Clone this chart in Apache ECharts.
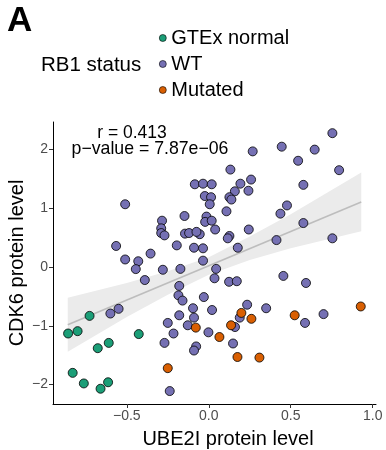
<!DOCTYPE html>
<html>
<head>
<meta charset="utf-8">
<script src="https://cdn.jsdelivr.net/npm/echarts@6/dist/echarts.min.js"></script>
<style>
   html, body { margin: 0; padding: 0; background: #fff; }
   #chart { width: 386px; height: 450px; }
</style>
</head>
<body>
<div id="chart"></div>
<script>
   // points: [UBE2I, CDK6]
   var gtexPoints = [
      [-0.727, -0.83], [-0.858, -1.13], [-0.80, -1.09], [-0.427, -1.14], [-0.61, -1.29],
      [-0.677, -1.38], [-0.83, -1.80], [-0.762, -1.98], [-0.614, -1.96], [-0.66, -2.07]
   ];
   var wtPoints = [
      [-0.51, 1.07], [-0.085, 1.41], [-0.035, 1.42], [0.018, 1.41], [-0.024, 1.21],
      [0.014, 1.19], [0.006, 1.07], [-0.285, 0.79], [-0.148, 0.87], [-0.014, 0.86],
      [-0.022, 0.77], [0.018, 0.79], [0.039, 0.64], [-0.29, 0.66], [-0.29, 0.58],
      [-0.27, 0.54], [-0.145, 0.57], [-0.12, 0.58], [-0.055, 0.56], [-0.075, 0.60],
      [-0.565, 0.36], [-0.355, 0.23], [-0.195, 0.37], [-0.09, 0.33], [-0.035, 0.32],
      [-0.51, 0.13], [-0.43, 0.10], [-0.035, 0.11],
      [0.754, 2.28], [0.445, 2.05], [0.646, 2.00], [0.268, 1.97], [0.545, 1.81],
      [0.795, 1.65], [0.132, 1.66], [0.258, 1.49], [0.193, 1.42], [0.577, 1.40],
      [0.242, 1.30], [0.159, 1.29], [0.126, 1.19], [0.138, 1.15], [0.108, 0.95],
      [0.477, 1.05], [0.437, 0.91], [0.244, 0.64], [0.126, 0.53], [0.116, 0.49],
      [0.577, 0.75], [0.413, 0.46], [0.754, 0.49], [0.177, 0.33],
      [-0.445, -0.034], [-0.28, -0.045], [-0.173, -0.03], [0.045, -0.03], [-0.39, -0.22],
      [0.035, -0.19], [-0.18, -0.32], [-0.185, -0.48], [-0.16, -0.57], [-0.03, -0.51],
      [-0.55, -0.71], [-0.60, -0.79], [-0.096, -0.70], [0.02, -0.73], [-0.18, -0.82],
      [-0.09, -0.86], [-0.25, -0.95], [-0.128, -0.99], [-0.002, -1.11], [-0.215, -1.13],
      [-0.27, -1.29], [-0.077, -1.35], [-0.09, -1.42], [-0.238, -2.11],
      [0.124, -0.25], [0.171, -0.24], [0.455, -0.15], [0.593, -0.27], [0.234, -0.64],
      [0.35, -0.70], [0.189, -0.86], [0.70, -0.80], [0.587, -0.95], [0.16, -1.02],
      [0.148, -1.30]
   ];
   var mutPoints = [
      [-0.079, -1.03], [0.065, -1.19], [-0.25, -1.72], [0.199, -0.78], [0.26, -0.88],
      [0.524, -0.82], [0.927, -0.67], [0.136, -0.99], [0.175, -1.53], [0.309, -1.54]
   ];

   // fit line and confidence band
   var fitX = [-0.86, 0.93];
   var fitY = [-0.98, 1.11];
   var bandX = [-0.86, -0.5, -0.25, 0, 0.25, 0.5, 0.93];
   var bandUpper = [-0.52, -0.27, -0.07, 0.17, 0.52, 0.90, 1.61];
   var bandLower = [-1.44, -0.85, -0.47, -0.13, 0.12, 0.32, 0.61];

   var xTicks = [-0.5, 0, 0.5, 1];
   var yTicks = [-2, -1, 0, 1, 2];
   var groupNames = ['GTEx normal', 'WT', 'Mutated'];
   var groupColors = ['#1b9e77', '#7570b3', '#d95f02'];

   var FONT = 'Liberation Sans, Arial, Helvetica, sans-serif';

   function minusSign(s){
      return String(s).replace('-', '\u2212');
   }

   var myChart = echarts.init(document.getElementById('chart'));

   var fitData = fitX.map(function(x, i){ return [x, fitY[i]]; });

   function pointSeries(name, data, color){
      return {
         name: name,
         type: 'scatter',
         data: data,
         symbolSize: 9,
         z: 5,
         itemStyle: { color: color, borderColor: '#000', borderWidth: 0.8, opacity: 1 }
      };
   }

   var option = {
      animation: false,
      backgroundColor: '#fff',
      textStyle: { fontFamily: FONT },
      grid: { left: 53, right: 10, top: 122, bottom: 46, containLabel: false, outerBoundsMode: 'none' },
      legend: {
         data: groupNames,
         orient: 'vertical',
         left: 159,
         top: 28,
         padding: 0,
         itemWidth: 7,
         itemHeight: 7,
         itemGap: 6,
         icon: 'circle',
         itemStyle: { borderWidth: 0.6 },
         textStyle: { fontSize: 20, color: '#000', fontFamily: FONT }
      },
      graphic: [
         { type: 'text', left: 7, top: 4, style: { text: 'A', font: 'bold 35px ' + FONT, fill: '#000' } },
         { type: 'text', left: 41, top: 55, style: { text: 'RB1 status', font: '20.5px ' + FONT, fill: '#000' } },
         { type: 'text', x: 132, y: 133, style: { text: 'r = 0.413', font: '17.5px ' + FONT, fill: '#000', align: 'center', verticalAlign: 'middle' } },
         { type: 'text', x: 150, y: 149, style: { text: 'p\u2212value = 7.87e\u221206', font: '17.7px ' + FONT, fill: '#000', align: 'center', verticalAlign: 'middle' } }
      ],
      xAxis: {
         type: 'value',
         min: -0.95,
         max: 1.02,
         name: 'UBE2I protein level',
         nameLocation: 'middle',
         nameGap: 25,
         nameTextStyle: { fontSize: 20, color: '#000', fontFamily: FONT, padding: [0, 0, 0, 27] },
         axisLine: { show: true, onZero: false, lineStyle: { color: '#000', width: 1 } },
         axisTick: { show: true, length: 4, customValues: xTicks, lineStyle: { color: '#333' } },
         axisLabel: {
            customValues: xTicks,
            fontSize: 14,
            color: '#4d4d4d',
            margin: 5,
            formatter: function(v){ return minusSign(v.toFixed(1)); }
         },
         splitLine: { show: false }
      },
      yAxis: {
         type: 'value',
         min: -2.33,
         max: 2.47,
         name: 'CDK6 protein level',
         nameLocation: 'middle',
         nameGap: 26,
         nameMoveOverlap: false,
         nameRotate: 90,
         nameTextStyle: { fontSize: 20, color: '#000', fontFamily: FONT },
         axisLine: { show: true, onZero: false, lineStyle: { color: '#000', width: 1 } },
         axisTick: { show: true, length: 4, customValues: yTicks, lineStyle: { color: '#333' } },
         axisLabel: {
            customValues: yTicks,
            fontSize: 14,
            color: '#4d4d4d',
            margin: 5,
            formatter: function(v){ return minusSign(v); }
         },
         splitLine: { show: false }
      },
      series: [
         {
            name: 'band',
            type: 'custom',
            z: 1,
            silent: true,
            data: [[0, 0]],
            renderItem: function(params, api){
               var pts = [];
               for(var i = 0; i < bandX.length; i++){
                  pts.push(api.coord([bandX[i], bandUpper[i]]));
               }
               for(var j = bandX.length - 1; j >= 0; j--){
                  pts.push(api.coord([bandX[j], bandLower[j]]));
               }
               return { type: 'polygon', shape: { points: pts }, style: { fill: '#ebebeb' } };
            }
         },
         {
            name: 'fit',
            type: 'line',
            z: 2,
            silent: true,
            data: fitData,
            showSymbol: false,
            lineStyle: { color: '#bdbdbd', width: 1.6 }
         },
         pointSeries(groupNames[0], gtexPoints, groupColors[0]),
         pointSeries(groupNames[1], wtPoints, groupColors[1]),
         pointSeries(groupNames[2], mutPoints, groupColors[2])
      ]
   };
   myChart.setOption(option);
</script>
</body>
</html>
